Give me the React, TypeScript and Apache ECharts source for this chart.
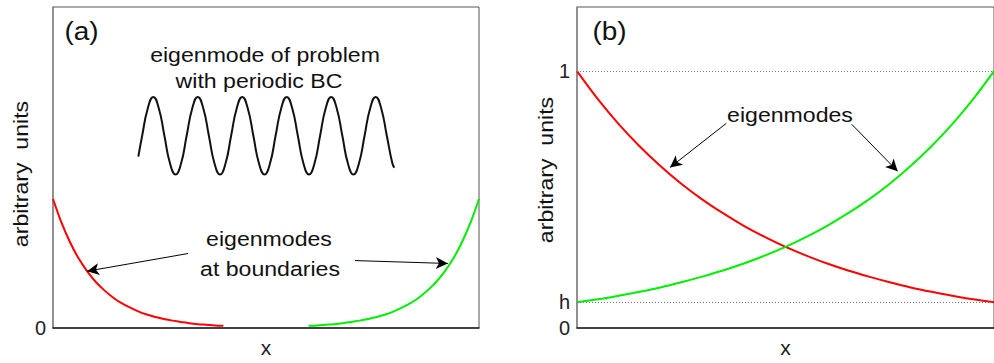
import React, { useEffect, useRef } from "react";
import * as echarts from "echarts";

// ---------- Panel (a) data ----------
const redAX = [0, 0.02, 0.04, 0.06, 0.08, 0.1, 0.12, 0.14, 0.16, 0.18, 0.2, 0.22, 0.24, 0.26, 0.28, 0.3, 0.32, 0.34, 0.36, 0.38, 0.4];
const redAY = [0.402, 0.328, 0.267, 0.217, 0.177, 0.144, 0.118, 0.096, 0.078, 0.064, 0.052, 0.042, 0.034, 0.028, 0.023, 0.019, 0.015, 0.012, 0.01, 0.008, 0.007];
const greenAX = [0.6, 0.62, 0.64, 0.66, 0.68, 0.7, 0.72, 0.74, 0.76, 0.78, 0.8, 0.82, 0.84, 0.86, 0.88, 0.9, 0.92, 0.94, 0.96, 0.98, 1.0];
const greenAY = [0.007, 0.008, 0.01, 0.012, 0.015, 0.019, 0.023, 0.028, 0.034, 0.042, 0.052, 0.064, 0.078, 0.096, 0.118, 0.144, 0.177, 0.217, 0.267, 0.328, 0.402];
const sineX = [0.2003, 0.2093, 0.2224, 0.2354, 0.2485, 0.2615, 0.2746, 0.2876, 0.3007, 0.3137, 0.3268, 0.3398, 0.3529, 0.3659, 0.379, 0.392, 0.4051, 0.4181, 0.4312, 0.4442, 0.4573, 0.4703, 0.4834, 0.4964, 0.5095, 0.5225, 0.5356, 0.5486, 0.5617, 0.5747, 0.5878, 0.6008, 0.6139, 0.627, 0.64, 0.6531, 0.6661, 0.6792, 0.6922, 0.7053, 0.7183, 0.7314, 0.7444, 0.7575, 0.7705, 0.7836, 0.7966, 0.8012];
const sineY = [0.534, 0.599, 0.684, 0.72, 0.684, 0.599, 0.513, 0.478, 0.513, 0.599, 0.684, 0.72, 0.684, 0.599, 0.513, 0.478, 0.513, 0.599, 0.684, 0.72, 0.684, 0.599, 0.513, 0.478, 0.513, 0.599, 0.684, 0.72, 0.684, 0.599, 0.513, 0.478, 0.513, 0.599, 0.684, 0.72, 0.684, 0.599, 0.513, 0.478, 0.513, 0.599, 0.684, 0.72, 0.684, 0.599, 0.513, 0.499];
// arrows in panel (a): [fromX, fromY, toX, toY]
const arrowsA = [
  [0.317, 0.232, 0.08, 0.177],
  [0.709, 0.21, 0.927, 0.201],
];
const yTicksA = ["0"];

// ---------- Panel (b) data ----------
const bX = [0, 0.05, 0.1, 0.15, 0.2, 0.25, 0.3, 0.35, 0.4, 0.45, 0.5, 0.55, 0.6, 0.65, 0.7, 0.75, 0.8, 0.85, 0.9, 0.95, 1.0];
const redBY = [1.0, 0.891, 0.794, 0.708, 0.631, 0.562, 0.501, 0.447, 0.398, 0.355, 0.316, 0.282, 0.251, 0.224, 0.2, 0.178, 0.158, 0.141, 0.126, 0.112, 0.1];
const greenBY = [0.1, 0.112, 0.126, 0.141, 0.158, 0.178, 0.2, 0.224, 0.251, 0.282, 0.316, 0.355, 0.398, 0.447, 0.501, 0.562, 0.631, 0.708, 0.794, 0.891, 1.0];
const levelH = 0.1;
const levelOne = 1;
const arrowsB = [
  [0.358, 0.797, 0.223, 0.625],
  [0.659, 0.793, 0.769, 0.61],
];

const FONT = "'Liberation Sans', Arial, Helvetica, sans-serif";
const RED = "#ff0000";
const GREEN = "#00ee00";

function pairs(xs: number[], ys: number[]) {
  return xs.map((x, i) => [x, ys[i]]);
}

function txt(text: string, x: number, y: number, size: number, sx: number, rot = 0) {
  return {
    type: "text",
    x,
    y,
    rotation: rot,
    scaleX: sx,
    silent: true,
    style: {
      text,
      fill: "#111",
      fontSize: size,
      fontFamily: FONT,
      align: "center",
      verticalAlign: "middle",
      textAlign: "center",
      textVerticalAlign: "middle",
    },
  };
}

export default function App() {
  const ref = useRef<HTMLDivElement>(null);
  useEffect(() => {
    if (!ref.current) return;
    const chart = echarts.init(ref.current, null, { renderer: "svg" });
    const xAxisBase = {
      type: "value",
      min: 0,
      max: 1,
      axisLabel: { show: false },
      axisTick: { show: false },
      splitLine: { show: false },
      axisLine: { show: true, lineStyle: { color: "#222", width: 1.5 } },
      name: "x",
      nameLocation: "middle",
      nameGap: 9,
      nameTextStyle: { fontSize: 21, color: "#222", fontFamily: FONT, verticalAlign: "top" },
    };
    const arrowLine = (arr: number[][]) => ({
      silent: true,
      symbol: ["none", "arrow"],
      symbolSize: [9, 12],
      lineStyle: { color: "#000", width: 1, type: "solid" },
      label: { show: false },
      emphasis: { disabled: true },
      data: arr.map((a) => [{ coord: [a[0], a[1]] }, { coord: [a[2], a[3]] }]),
    });
    chart.setOption({
      animation: false,
      grid: [
        { left: 53, top: 7, width: 426, height: 328, show: true, borderColor: "#555", borderWidth: 1 },
        { left: 577, top: 7, width: 425, height: 328, show: true, borderColor: "#555", borderWidth: 1 },
      ],
      xAxis: [
        { ...xAxisBase, gridIndex: 0 },
        { ...xAxisBase, gridIndex: 1 },
      ],
      yAxis: [
        {
          gridIndex: 0,
          type: "value",
          min: 0,
          max: 1,
          interval: 0.5,
          splitLine: { show: false },
          axisTick: { show: false },
          axisLine: { show: true, lineStyle: { color: "#888", width: 1.5 } },
          axisLabel: {
            fontSize: 20,
            color: "#222",
            fontFamily: FONT,
            margin: 7,
            padding: [5, 0, 0, 0],
            formatter: (v: number) => (Math.abs(v) < 1e-9 ? yTicksA[0] : ""),
          },
        },
        {
          gridIndex: 1,
          type: "value",
          min: 0,
          max: 1.25,
          interval: 0.05,
          splitLine: { show: false },
          axisTick: { show: false },
          axisLine: { show: true, lineStyle: { color: "#888", width: 1.5 } },
          axisLabel: {
            fontSize: 20,
            color: "#222",
            fontFamily: FONT,
            margin: 7,
            padding: [3, 0, 0, 0],
            formatter: (v: number) => {
              if (Math.abs(v) < 1e-9) return "0";
              if (Math.abs(v - levelH) < 1e-6) return "h";
              if (Math.abs(v - levelOne) < 1e-6) return "1";
              return "";
            },
          },
        },
      ],
      series: [
        {
          type: "line",
          xAxisIndex: 0,
          yAxisIndex: 0,
          data: pairs(sineX, sineY),
          smooth: 0.5,
          showSymbol: false,
          lineStyle: { color: "#111", width: 2 },
          silent: true,
        },
        {
          type: "line",
          xAxisIndex: 0,
          yAxisIndex: 0,
          data: pairs(redAX, redAY),
          smooth: 0.3,
          showSymbol: false,
          lineStyle: { color: RED, width: 2 },
          silent: true,
          markLine: arrowLine(arrowsA),
        },
        {
          type: "line",
          xAxisIndex: 0,
          yAxisIndex: 0,
          data: pairs(greenAX, greenAY),
          smooth: 0.3,
          showSymbol: false,
          lineStyle: { color: GREEN, width: 2 },
          silent: true,
        },
        {
          type: "line",
          xAxisIndex: 1,
          yAxisIndex: 1,
          data: pairs(bX, redBY),
          smooth: 0.3,
          showSymbol: false,
          lineStyle: { color: RED, width: 2 },
          silent: true,
          z: 3,
          markLine: {
            silent: true,
            symbol: ["none", "none"],
            label: { show: false },
            lineStyle: { color: "#777", width: 1, type: [1, 2] },
            emphasis: { disabled: true },
            data: [{ yAxis: levelOne }, { yAxis: levelH }],
          },
        },
        {
          type: "line",
          xAxisIndex: 1,
          yAxisIndex: 1,
          data: pairs(bX, greenBY),
          smooth: 0.3,
          showSymbol: false,
          lineStyle: { color: GREEN, width: 2 },
          silent: true,
          z: 3,
          markLine: arrowLine(arrowsB),
        },
      ],
      graphic: [
        txt("(a)", 81.5, 31.5, 25, 1.12),
        txt("eigenmode of problem", 265, 55, 21, 1.1),
        txt("with periodic BC", 259, 81, 21, 1.1),
        txt("eigenmodes", 269, 238.7, 21, 1.1),
        txt("at boundaries", 270, 269, 21, 1.1),
        txt("arbitrary  units", 21, 174, 21, 1.1, Math.PI / 2),
        txt("(b)", 609.5, 31.5, 25, 1.12),
        txt("eigenmodes", 790, 115, 21, 1.1),
        txt("arbitrary  units", 545.5, 170, 21, 1.1, Math.PI / 2),
      ],
    });
    return () => chart.dispose();
  }, []);
  return <div ref={ref} style={{ position: "fixed", left: 0, top: 0, width: 994, height: 363, background: "#fff" }} />;
}
